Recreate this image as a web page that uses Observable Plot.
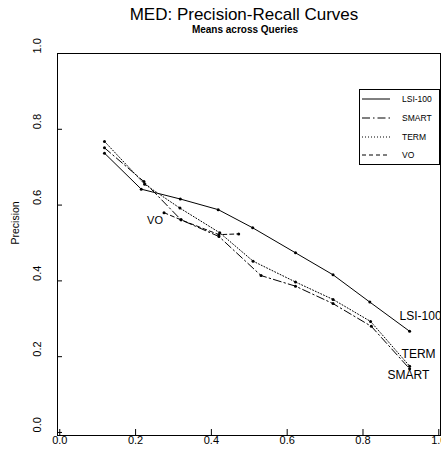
<!DOCTYPE html>
<html>
<head>
<meta charset="utf-8">
<script src="https://cdn.jsdelivr.net/npm/d3@7"></script>
<script src="https://cdn.jsdelivr.net/npm/@observablehq/plot@0.6"></script>
<style>
  body { margin: 0; background: #fff; }
  #wrap { position: relative; width: 441px; height: 458px; overflow: hidden; font-family: "Liberation Sans", Arial, Helvetica, sans-serif; }
  #overlay { position: absolute; left: 0; top: 0; pointer-events: none; }
</style>
</head>
<body>
<div id="wrap"></div>
<script>
// ---- data ----
const seriesNames = ["LSI-100", "SMART", "TERM", "VO"];
const xTicks = [0.0, 0.2, 0.4, 0.6, 0.8, 1.0];
const yTicks = [0.0, 0.2, 0.4, 0.6, 0.8, 1.0];

const lsiRecall    = [0.118, 0.215, 0.318, 0.418, 0.509, 0.622, 0.721, 0.818, 0.923];
const lsiPrecision = [0.737, 0.642, 0.616, 0.588, 0.540, 0.474, 0.416, 0.344, 0.267];

const smartRecall    = [0.118, 0.222, 0.320, 0.420, 0.531, 0.622, 0.721, 0.822, 0.923];
const smartPrecision = [0.751, 0.662, 0.561, 0.517, 0.414, 0.386, 0.340, 0.280, 0.168];

const termRecall    = [0.118, 0.224, 0.317, 0.422, 0.510, 0.622, 0.721, 0.820, 0.923];
const termPrecision = [0.768, 0.655, 0.592, 0.527, 0.452, 0.397, 0.351, 0.293, 0.175];

const voRecall    = [0.275, 0.320, 0.420, 0.472];
const voPrecision = [0.580, 0.561, 0.522, 0.524];

const titleText = "MED: Precision-Recall Curves";
const subtitleText = "Means across Queries";
const yLabel = "Precision";

// ---- build tables ----
const toRows = (name, xs, ys) => xs.map((r, i) => ({series: name, recall: r, precision: ys[i]}));
const lsi = toRows("LSI-100", lsiRecall, lsiPrecision);
const smart = toRows("SMART", smartRecall, smartPrecision);
const term = toRows("TERM", termRecall, termPrecision);
const vo = toRows("VO", voRecall, voPrecision);
const all = [...lsi, ...smart, ...term, ...vo];

const dashes = {"LSI-100": null, "SMART": "8,3,1.5,3", "TERM": "1,2", "VO": "4,3"};

const W = 441, H = 458;
const mL = 57, mR = 1, mT = 53, mB = 23;
const font = '"Liberation Sans", Arial, Helvetica, sans-serif';

const lineMark = (rows) => Plot.line(rows, {
  x: "recall", y: "precision", stroke: "black", strokeWidth: 1,
  strokeDasharray: dashes[rows[0].series]
});

const plot = Plot.plot({
  width: W, height: H,
  marginLeft: mL, marginRight: mR, marginTop: mT, marginBottom: mB,
  x: {domain: [-0.006, 1.0045], axis: null},
  y: {domain: [-0.008, 1.0], axis: null},
  style: {fontFamily: font, background: "white", color: "black", overflow: "visible"},
  marks: [
    Plot.frame({stroke: "black", strokeWidth: 1}),
    Plot.ruleX(xTicks, {x: d => d, stroke: "black", insetTop: (H - mT - mB) - 6}),
    Plot.ruleY(yTicks, {y: d => d, stroke: "black", insetRight: (W - mL - mR) - 5}),
    Plot.text(xTicks, {x: d => d, frameAnchor: "bottom", dy: 8, text: d => d.toFixed(1), fontSize: 11, fill: "black"}),
    Plot.text(yTicks, {y: d => d, frameAnchor: "left", dx: -20, rotate: -90, text: d => d.toFixed(1), fontSize: 11, fill: "black"}),
    Plot.text([yLabel], {frameAnchor: "left", dx: -42, rotate: -90, text: d => d, fontSize: 10.5, fill: "black"}),
    lineMark(lsi), lineMark(smart), lineMark(term), lineMark(vo),
    Plot.dot(all, {x: "recall", y: "precision", r: 1.5, fill: "black", stroke: null}),
    Plot.text([lsi[lsi.length - 1]], {x: "recall", y: "precision", text: "series", textAnchor: "start", dx: -10, dy: -15, fontSize: 12, fill: "black"}),
    Plot.text([term[term.length - 1]], {x: "recall", y: "precision", text: "series", textAnchor: "start", dx: -8, dy: -12, fontSize: 12, fill: "black"}),
    Plot.text([smart[smart.length - 1]], {x: "recall", y: "precision", text: "series", textAnchor: "start", dx: -22, dy: 6, fontSize: 12, fill: "black"}),
    Plot.text([vo[0]], {x: "recall", y: "precision", text: "series", textAnchor: "end", dx: -1, dy: 8, fontSize: 11, fill: "black"})
  ]
});

const wrap = document.getElementById("wrap");
wrap.appendChild(plot);

// ---- overlay: title, subtitle, legend ----
const svg = d3.select(wrap).append("svg")
  .attr("id", "overlay").attr("width", W).attr("height", H)
  .style("font-family", font);

svg.append("text").attr("x", 244).attr("y", 20).attr("text-anchor", "middle")
  .attr("font-size", 17).attr("fill", "black").text(titleText);
svg.append("text").attr("x", 245).attr("y", 33).attr("text-anchor", "middle")
  .attr("font-size", 10).attr("font-weight", "bold").attr("fill", "black").text(subtitleText);

const lg = svg.append("g");
lg.append("rect").attr("x", 359.5).attr("y", 89.5).attr("width", 80).attr("height", 75)
  .attr("fill", "white").attr("stroke", "black").attr("stroke-width", 1);
const rowY = [99, 118, 137, 155];
seriesNames.forEach((name, i) => {
  lg.append("line").attr("x1", 362).attr("x2", 390).attr("y1", rowY[i]).attr("y2", rowY[i])
    .attr("stroke", "black").attr("stroke-width", 1)
    .attr("stroke-dasharray", dashes[name]);
  lg.append("text").attr("x", 402).attr("y", rowY[i]).attr("dy", "0.35em")
    .attr("font-size", 8.5).attr("fill", "black").text(name);
});
</script>
</body>
</html>
